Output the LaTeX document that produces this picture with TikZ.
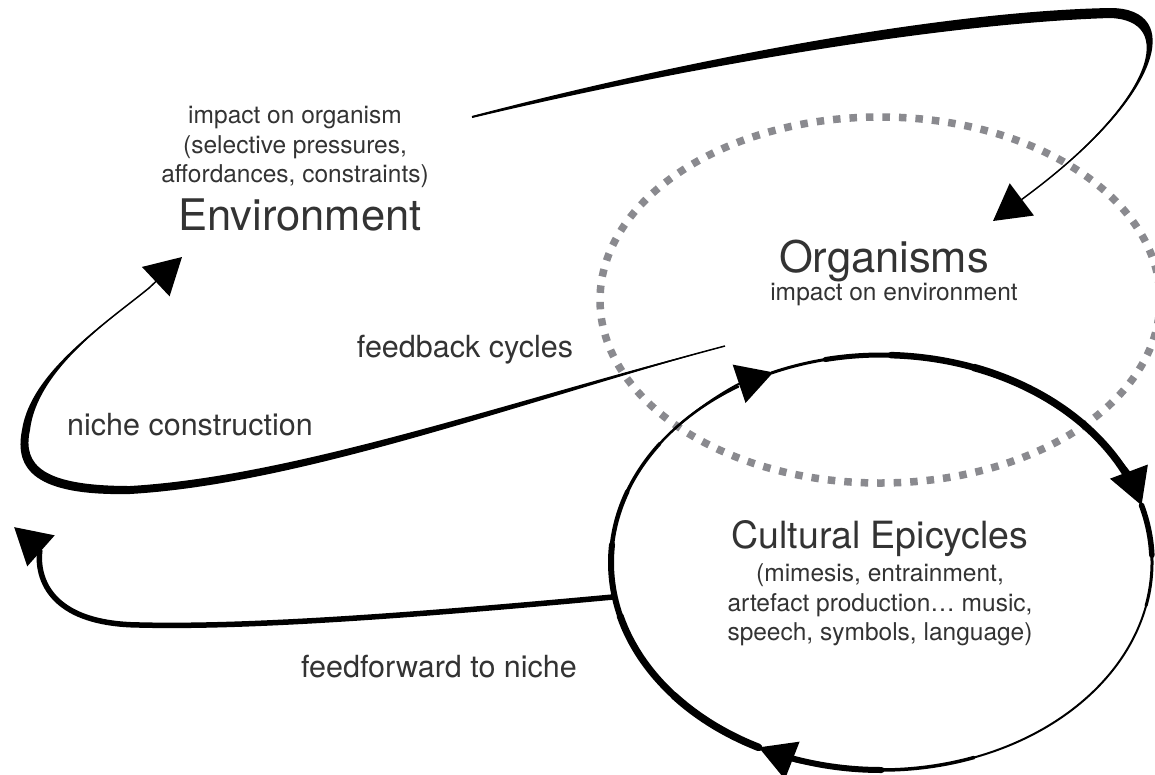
\documentclass[tikz,border=0pt]{standalone}
\usepackage{fontspec}
\setmainfont{TeX Gyre Heros}
\usetikzlibrary{arrows.meta}

\definecolor{ink}{HTML}{333333}
\definecolor{dotgray}{HTML}{8A8A8F}

\tikzset{
	bigtip/.style={-{Triangle[length=36pt,width=40pt]}},
	txt/.style={text=ink, inner sep=0pt},
	small/.style={txt, font=\fontsize{24.5}{29.5}\selectfont, align=center},
	mid/.style={txt, font=\fontsize{30.5}{36}\selectfont, anchor=base},
	big/.style={txt, font=\fontsize{43.5}{50}\selectfont, anchor=base}
}

\begin{document}
\begin{tikzpicture}[x=1pt,y=-1pt]
	\useasboundingbox[fill=white] (0,0) rectangle (1155,774);

	% organisms ring
	\coordinate (org) at (880,300);
	\draw[dotgray, line width=7.5pt, dash pattern=on 7.5pt off 9pt] (org) ellipse[x radius=280, y radius=183];

	% texts
	\node[small] (envsub) at (295,147) {impact on organism\\(selective pressures,\\affordances, constraints)};
	\node[big] (env) at (300,230) {Environment};
	\node[big] (orgs) at (884,272) {Organisms};
	\node[small, anchor=base] (orgsub) at (894,300) {impact on environment};
	\node[big, font=\fontsize{37.5}{44}\selectfont] (epi) at (880,548) {Cultural Epicycles};
	\node[small] (episub) at (880,605) {(mimesis, entrainment,\\artefact production… music,\\speech, symbols, language)};
	\node[mid] (fb) at (465,357) {feedback cycles};
	\node[mid] (nc) at (190,435) {niche construction};
	\node[mid] (ff) at (439,677) {feedforward to niche};

	% impact on organism
	\coordinate (a0) at (472,117);
	\coordinate (a1) at (993,221);
	\fill (472,116) .. controls (700,56) and (950,11) .. (1110,8) .. controls (1185,8) and (1163,96) .. (1029,194)
		.. controls (1157,96) and (1175,20) .. (1110,18) .. controls (950,23) and (700,64) .. (472,118) -- cycle;
	\draw[line width=1.5pt, bigtip] (a0) .. controls (700,60) and (950,17) .. (1110,13) .. controls (1180,14) and (1160,96) .. (1029,194) -- (a1);

	% niche construction
	\coordinate (b0) at (725,346);
	\coordinate (b1) at (182,257);
	\fill (b0) .. controls (520,403) and (300,484) .. (130,494) .. controls (36,496) and (14,470) .. (22,430)
		.. controls (31,370) and (110,320) .. (149,288) .. controls (110,320) and (37,370) .. (30,430)
		.. controls (22,466) and (44,486) .. (130,486) .. controls (300,476) and (520,397) .. (b0) -- cycle;
	\draw[line width=1.5pt, bigtip] (b0) .. controls (520,400) and (300,480) .. (130,490) .. controls (40,492) and (18,470) .. (26,430) .. controls (34,370) and (110,320) .. (149,288) -- (b1);

	% feedforward to niche
	\coordinate (c0) at (613,597);
	\coordinate (c1) at (14,527);
	\draw[line width=5.5pt, bigtip] (c0) .. controls (450,612) and (260,628) .. (140,625) .. controls (25,624) and (40,550) .. (c1);

	% cultural epicycles
	\coordinate (cyc) at (881.5,562.5);
	\foreach \a/\b/\w in {117/140/7.5, 140/165/7, 165/185/6, 185/200/4.5, 200/215/3.5, 215/238/2.5,
		246/258/3, 258/272/5, 272/290/6.5, 290/335/7.5,
		344/358/5.5, 358/372/3, 372/430/2, 430/450/3.5, 450/469/6}
		\draw[line width=\w pt, line cap=round] (cyc) ++(\a:270.5 and 207.5) arc[start angle=\a, end angle=\b, x radius=270.5, y radius=207.5];
	\foreach \a/\b in {220/246.4, 315/344, 450/477}
		\draw[line width=2pt, bigtip] (cyc) ++(\a:270.5 and 207.5) arc[start angle=\a, end angle=\b, x radius=270.5, y radius=207.5];
\end{tikzpicture}
\end{document}
